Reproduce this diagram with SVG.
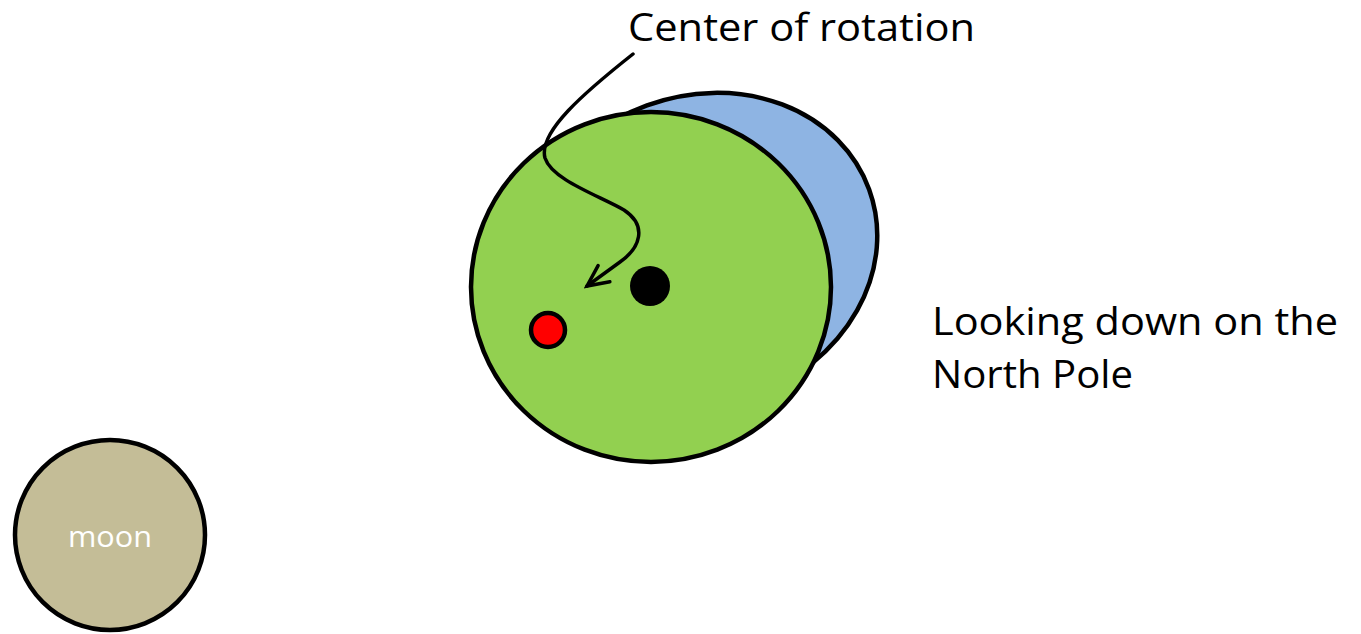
<svg xmlns="http://www.w3.org/2000/svg" width="1361" height="634" viewBox="0 0 1361 634">
  <style>
    .outline { stroke: #000; stroke-width: 4.5; }
    .label { font-family: "Open Sans", "Liberation Sans", sans-serif; font-size: 39px; fill: #000; }
    .moonlabel { font-family: "Open Sans", "Liberation Sans", sans-serif; font-size: 30px; fill: #fff; }
    .connector { fill: none; stroke: #000; stroke-width: 3.5; stroke-linecap: round; }
  </style>
  <defs>
    <marker id="openArrow" viewBox="-2 -2 28 26" refX="22" refY="11" markerWidth="28" markerHeight="26" markerUnits="userSpaceOnUse" orient="auto">
      <path d="M1,1 L22,11 L1,21" fill="none" stroke="#000" stroke-width="3.5" stroke-linecap="round" stroke-linejoin="miter"/>
    </marker>
  </defs>
  <rect width="1361" height="634" fill="#fff"/>

  <g id="bulge">
    <ellipse class="outline" cx="700" cy="251" rx="180" ry="155" transform="rotate(-20 700 251)" fill="#8EB4E3"/>
  </g>
  <g id="earth">
    <ellipse class="outline" cx="651" cy="287" rx="180" ry="175" fill="#92D050"/>
  </g>
  <g id="center-dot">
    <circle cx="650" cy="286" r="20" fill="#000"/>
  </g>
  <g id="red-dot">
    <circle class="outline" cx="548" cy="330" r="17" fill="#FF0000"/>
  </g>
  <g id="moon">
    <circle class="outline" cx="110" cy="535" r="95" fill="#C4BD97"/>
    <text class="moonlabel" x="110" y="547" text-anchor="middle" textLength="84" lengthAdjust="spacingAndGlyphs">moon</text>
  </g>
  <g id="title">
    <text class="label" x="628" y="41" textLength="347" lengthAdjust="spacingAndGlyphs">Center of rotation</text>
  </g>
  <g id="caption">
    <text class="label" x="932" y="335" textLength="406" lengthAdjust="spacingAndGlyphs">Looking down on the</text>
    <text class="label" x="932" y="388" textLength="201" lengthAdjust="spacingAndGlyphs">North Pole</text>
  </g>

  <g id="connectors">
    <path class="connector" d="M633,54 C585,92 538,132 545,158 C552,180 600,196 624,210 C648,226 640,248 620,262 L587,286" marker-end="url(#openArrow)"/>
  </g>
</svg>
